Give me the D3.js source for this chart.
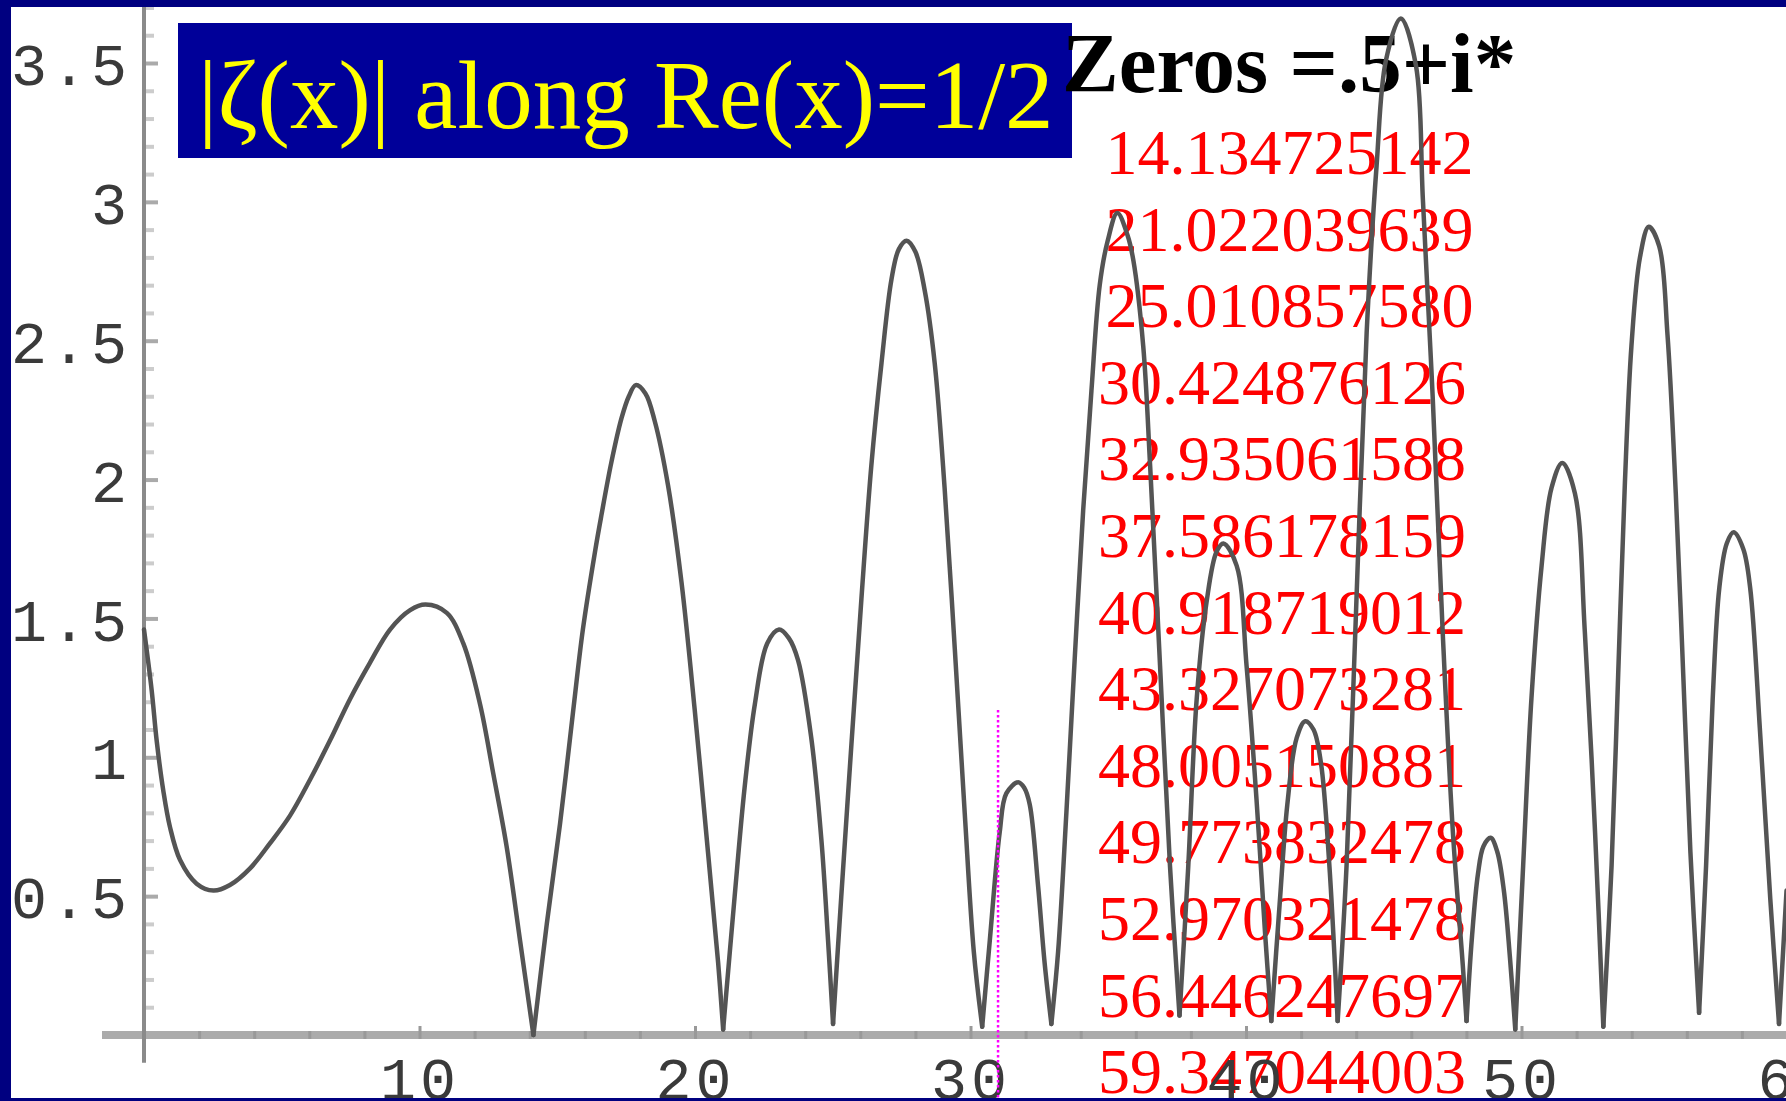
<!DOCTYPE html>
<html>
<head>
<meta charset="utf-8">
<script src="https://cdn.jsdelivr.net/npm/d3@7"></script>
<style>
  html, body { margin: 0; padding: 0; background: #ffffff; overflow: hidden; }
  svg { display: block; }
</style>
</head>
<body>
<svg id="chart" width="1786" height="1101"></svg>
<script>
// |ζ(1/2 + i t)| along the critical line, t from 0 to 60
const tValues = [
  0, 0.28, 0.46, 0.70, 0.94, 1.31, 1.91, 2.52, 3.12, 3.85, 4.57, 5.30, 6.03, 6.75, 7.48, 8.20, 8.93, 9.66, 10.22, 10.99, 11.59, 12.20, 12.68, 13.16, 13.65,
  14.134725142, 14.62, 15.10, 15.57, 15.93, 16.37, 16.60, 16.96, 17.33, 17.60, 17.85, 18.20, 18.54, 19.02, 19.51, 19.99, 20.47, 20.84,
  21.022039639, 21.44, 21.80, 22.17, 22.62, 23.05, 23.40, 23.74, 24.22, 24.59, 24.83,
  25.010857580, 25.31, 25.68, 26.04, 26.40, 26.77, 27.13, 27.40, 27.68, 28.00, 28.34, 28.70, 29.06, 29.43, 29.79, 30.12,
  30.424876126, 30.70, 31.06, 31.30, 31.73, 31.95, 32.15, 32.45, 32.69,
  32.935061588, 33.18, 33.48, 33.78, 34.09, 34.39, 34.69, 34.98, 35.33, 35.70, 35.91, 36.27, 36.52, 36.88, 37.24,
  37.586178159, 37.90, 38.21, 38.57, 38.93, 39.18, 39.66, 40.02, 40.38, 40.69,
  40.918719012, 41.22, 41.50, 41.84, 42.15, 42.45, 42.72, 43.02,
  43.327073281, 43.65, 44.01, 44.38, 44.74, 45.08, 45.62, 46.17, 46.42, 46.78, 47.14, 47.51, 47.87,
  48.005150881, 48.20, 48.42, 48.62, 48.88, 49.12, 49.36, 49.58,
  49.773832478, 50.06, 50.36, 50.73, 51.09, 51.48, 51.94, 52.30, 52.67,
  52.970321478, 53.27, 53.51, 53.75, 53.99, 54.30, 54.62, 55.00, 55.30, 55.60, 55.87, 56.13,
  56.446247697, 56.70, 56.94, 57.18, 57.45, 57.70, 58.05, 58.30, 58.66, 59.03,
  59.347044003, 59.62
];
const absZeta = [
  1.46, 1.24, 1.06, 0.88, 0.75, 0.63, 0.545, 0.52, 0.54, 0.60, 0.69, 0.79, 0.92, 1.06, 1.21, 1.34, 1.46, 1.53, 1.55, 1.52, 1.41, 1.19, 0.94, 0.68, 0.34,
  0.00, 0.40, 0.76, 1.16, 1.46, 1.74, 1.87, 2.06, 2.22, 2.30, 2.34, 2.31, 2.21, 1.98, 1.63, 1.17, 0.66, 0.26,
  0.02, 0.50, 0.89, 1.19, 1.41, 1.46, 1.43, 1.35, 1.07, 0.70, 0.34,
  0.04, 0.50, 1.05, 1.57, 2.05, 2.42, 2.72, 2.83, 2.86, 2.82, 2.68, 2.42, 1.97, 1.39, 0.80, 0.30,
  0.03, 0.34, 0.73, 0.87, 0.91, 0.89, 0.83, 0.54, 0.26,
  0.04, 0.30, 0.80, 1.35, 1.89, 2.32, 2.70, 2.86, 2.96, 2.88, 2.79, 2.48, 2.05, 1.33, 0.61,
  0.07, 0.60, 1.21, 1.56, 1.74, 1.77, 1.69, 1.33, 0.85, 0.37,
  0.05, 0.47, 0.83, 1.07, 1.13, 1.10, 0.98, 0.62,
  0.05, 0.61, 1.57, 2.53, 3.13, 3.51, 3.66, 3.49, 3.01, 2.29, 1.45, 0.73, 0.25,
  0.05, 0.35, 0.58, 0.68, 0.71, 0.66, 0.52, 0.28,
  0.02, 0.61, 1.21, 1.69, 1.97, 2.06, 1.95, 1.45, 0.73,
  0.03, 0.61, 1.30, 1.98, 2.48, 2.80, 2.91, 2.84, 2.52, 1.95, 1.30, 0.66,
  0.08, 0.61, 1.21, 1.61, 1.77, 1.81, 1.75, 1.61, 1.09, 0.49,
  0.04, 0.52
];

// Imaginary parts of the first nontrivial zeros
const zeroLabels = [
  "14.134725142", "21.022039639", "25.010857580", "30.424876126",
  "32.935061588", "37.586178159", "40.918719012", "43.327073281",
  "48.005150881", "49.773832478", "52.970321478", "56.446247697",
  "59.347044003"
];

const xTickValues = [10, 20, 30, 40, 50, 60];
const xTickLabels = ["10", "20", "30", "40", "50", "60"];
const yTickValues = [0.5, 1, 1.5, 2, 2.5, 3, 3.5];
const yTickLabels = ["0.5", "1", "1.5", "2", "2.5", "3", "3.5"];

const titleText = "|\u03B6(x)| along Re(x)=1/2";
const zerosHeading = "Zeros =.5+i*";

// dotted cursor line
const markerT = 31.0;
const markerTop = 1.17;

// ---------------------------------------------------------------
const W = 1786, H = 1101;
const svg = d3.select("#chart");

const x = d3.scaleLinear().domain([0, 60]).range([144, 1797]);
const y = d3.scaleLinear().domain([0, 3.5]).range([1035, 63]);

svg.append("rect").attr("width", W).attr("height", H).attr("fill", "#ffffff");

// title banner
svg.append("rect")
  .attr("x", 178).attr("y", 23).attr("width", 894).attr("height", 135)
  .attr("fill", "#000099");
svg.append("text")
  .attr("x", 198).attr("y", 128)
  .attr("font-family", "'Liberation Serif', 'Times New Roman', serif")
  .attr("font-size", 97)
  .attr("fill", "#ffff00")
  .text(titleText);

// zeros list
svg.append("text")
  .attr("x", 1062).attr("y", 92)
  .attr("font-family", "'Liberation Serif', 'Times New Roman', serif")
  .attr("font-weight", "bold")
  .attr("font-size", 85)
  .attr("fill", "#000000")
  .text(zerosHeading);

svg.append("g").selectAll("text")
  .data(zeroLabels)
  .join("text")
  .attr("x", (d, i) => i < 3 ? 1105.5 : 1098)
  .attr("y", (d, i) => 174 + i * 76.6)
  .attr("font-family", "'Liberation Serif', 'Times New Roman', serif")
  .attr("font-size", 64)
  .attr("fill", "#ff0000")
  .text(d => d);

// ---- axes ----
const monoFont = "'Liberation Mono', 'Courier New', monospace";

// x axis band
svg.append("line")
  .attr("x1", 102).attr("x2", W)
  .attr("y1", y(0)).attr("y2", y(0))
  .attr("stroke", "#ababab").attr("stroke-width", 8);

// x minor ticks every 2 units
const xMinor = svg.append("g")
  .attr("transform", `translate(0,${y(0)})`)
  .call(d3.axisBottom(x).tickValues(d3.range(2, 61, 2)).tickSize(4).tickFormat(""));
xMinor.select(".domain").remove();
xMinor.selectAll(".tick line")
  .attr("y1", d => d % 10 === 0 ? -9 : -4)
  .attr("y2", 4)
  .attr("stroke", "#999999").attr("stroke-width", 3);

// x labels
const xAxis = svg.append("g")
  .attr("transform", `translate(0,${y(0)})`)
  .call(d3.axisBottom(x).tickValues(xTickValues).tickSize(0)
    .tickFormat((d, i) => xTickLabels[i]));
xAxis.select(".domain").remove();
xAxis.selectAll(".tick text")
  .attr("y", 64).attr("dy", null)
  .attr("font-family", monoFont)
  .attr("font-size", 60)
  .attr("letter-spacing", 4)
  .attr("fill", "#3a3a3a");

// y axis line
svg.append("line")
  .attr("x1", x(0)).attr("x2", x(0))
  .attr("y1", y(-0.1)).attr("y2", 7)
  .attr("stroke", "#8a8a8a").attr("stroke-width", 4);

// y minor ticks every 0.1
const minorVals = d3.range(1, 38).filter(i => i % 5 !== 0).map(i => i / 10);
const yMinor = svg.append("g")
  .attr("transform", `translate(${x(0) + 2},0)`)
  .call(d3.axisLeft(y).tickValues(minorVals).tickSize(-8).tickFormat(""));
yMinor.select(".domain").remove();
yMinor.selectAll(".tick line").attr("stroke", "#cccccc").attr("stroke-width", 4);

// y major ticks + labels
const yAxis = svg.append("g")
  .attr("transform", `translate(${x(0) + 2},0)`)
  .call(d3.axisLeft(y).tickValues(yTickValues).tickSize(-12).tickPadding(15)
    .tickFormat((d, i) => yTickLabels[i]));
yAxis.select(".domain").remove();
yAxis.selectAll(".tick line").attr("stroke", "#aaaaaa").attr("stroke-width", 4);
yAxis.selectAll(".tick text")
  .attr("dy", "0.36em")
  .attr("font-family", monoFont)
  .attr("font-size", 60)
  .attr("letter-spacing", 4)
  .attr("fill", "#3a3a3a");

// ---- curve: one smooth arch between consecutive zeros ----
const points = tValues.map((t, i) => ({ t, v: absZeta[i] }));
const zeroT = zeroLabels.map(Number);
const isZero = t => zeroT.some(z => Math.abs(z - t) < 1e-9);
const arches = [];
let current = [];
points.forEach(p => {
  current.push(p);
  if (isZero(p.t) && current.length > 1) {
    arches.push(current);
    current = [p];
  }
});
if (current.length > 1) arches.push(current);

const line = d3.line()
  .x(d => x(d.t))
  .y(d => y(d.v))
  .curve(d3.curveCatmullRom.alpha(0.5));

svg.append("g").selectAll("path")
  .data(arches)
  .join("path")
  .attr("d", line)
  .attr("fill", "none")
  .attr("stroke", "#545454")
  .attr("stroke-width", 4.5)
  .attr("stroke-linejoin", "round")
  .attr("stroke-linecap", "round");

// dotted cursor
svg.append("line")
  .attr("x1", x(markerT)).attr("x2", x(markerT))
  .attr("y1", y(markerTop)).attr("y2", H)
  .attr("stroke", "#ff00ff").attr("stroke-width", 2.5)
  .attr("stroke-dasharray", "2.5 2.5");

// frame
svg.append("rect").attr("x", 0).attr("y", 0).attr("width", W).attr("height", 7).attr("fill", "#000080");
svg.append("rect").attr("x", 0).attr("y", 0).attr("width", 11).attr("height", H).attr("fill", "#000080");
svg.append("rect").attr("x", 0).attr("y", H - 3).attr("width", W).attr("height", 3).attr("fill", "#000080");
</script>
</body>
</html>
